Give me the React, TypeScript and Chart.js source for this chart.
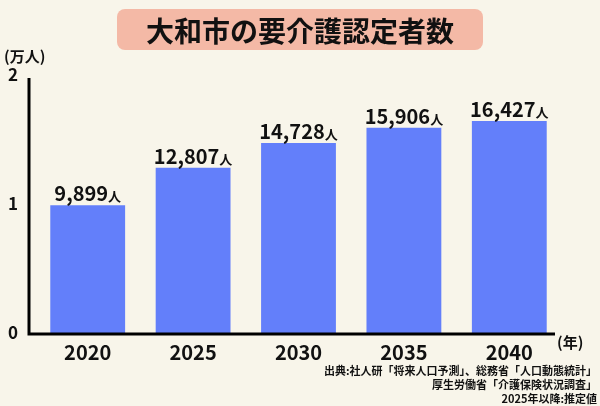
import React, { useEffect, useRef } from "react";
import { Chart, registerables } from "chart.js";

Chart.register(...registerables);

const title = "大和市の要介護認定者数";
const categories = ["2020", "2025", "2030", "2035", "2040"];
const values = [9899, 12807, 14728, 15906, 16427];
const yTicks = [0, 10000, 20000];
const yUnit = "(万人)";
const xUnit = "(年)";
const valueSuffix = "人";
const sourceLines = [
  "出典:社人研「将来人口予測」、総務省「人口動態統計」",
  "厚生労働省「介護保険状況調査」",
  "2025年以降:推定値",
];

const FONT = '"Noto Sans CJK JP", "Noto Sans", sans-serif';
const BG = "#f8f5ea";
const BAR = "#637ffa";
const TITLE_BG = "#f4b9a6";

const decorPlugin = {
  id: "decor",
  beforeDraw(chart: any) {
    const { ctx, width, height } = chart;
    ctx.save();
    ctx.fillStyle = BG;
    ctx.fillRect(0, 0, width, height);
    // title box
    const x = 117, y = 9, w = 366, h = 41, r = 8;
    ctx.fillStyle = TITLE_BG;
    ctx.beginPath();
    ctx.moveTo(x + r, y);
    ctx.arcTo(x + w, y, x + w, y + h, r);
    ctx.arcTo(x + w, y + h, x, y + h, r);
    ctx.arcTo(x, y + h, x, y, r);
    ctx.arcTo(x, y, x + w, y, r);
    ctx.closePath();
    ctx.fill();
    ctx.fillStyle = "#111";
    ctx.font = `bold 28px ${FONT}`;
    ctx.textAlign = "center";
    ctx.textBaseline = "middle";
    ctx.fillText(title, 300, 31);
    ctx.restore();
  },
  afterDraw(chart: any) {
    const { ctx, chartArea } = chart;
    const yScale = chart.scales.y;
    ctx.save();
    // axes lines
    ctx.strokeStyle = "#000";
    ctx.lineWidth = 3;
    ctx.beginPath();
    const ax = chartArea.left - 6;
    const ay = chartArea.bottom + 1;
    ctx.moveTo(ax, yScale.getPixelForValue(20000) + 3);
    ctx.lineTo(ax, ay);
    ctx.lineTo(555, ay);
    ctx.stroke();
    // units
    ctx.fillStyle = "#111";
    ctx.font = `bold 15px ${FONT}`;
    ctx.textBaseline = "middle";
    ctx.textAlign = "left";
    ctx.fillText(yUnit, 4, 56);
    ctx.fillText(xUnit, 557, 342);
    // value labels
    const meta = chart.getDatasetMeta(0);
    meta.data.forEach((bar: any, i: number) => {
      const num = values[i].toLocaleString("en-US");
      ctx.font = `bold 20px ${FONT}`;
      const w1 = ctx.measureText(num).width;
      ctx.font = `bold 13px ${FONT}`;
      const w2 = ctx.measureText(valueSuffix).width;
      const start = bar.x - (w1 + w2) / 2;
      const base = bar.y - 4;
      ctx.textAlign = "left";
      ctx.textBaseline = "alphabetic";
      ctx.font = `bold 20px ${FONT}`;
      ctx.fillText(num, start, base);
      ctx.font = `bold 13px ${FONT}`;
      ctx.fillText(valueSuffix, start + w1, base);
    });
    // source
    ctx.font = `bold 11px ${FONT}`;
    ctx.textAlign = "right";
    ctx.textBaseline = "middle";
    const sy = [371, 385, 399];
    sourceLines.forEach((s, i) => ctx.fillText(s, 597, sy[i]));
    ctx.restore();
  },
};

export default function App() {
  const ref = useRef<HTMLCanvasElement>(null);
  useEffect(() => {
    document.body.style.margin = "0";
    const chart = new Chart(ref.current!, {
      type: "bar",
      data: {
        labels: categories,
        datasets: [
          {
            data: values,
            backgroundColor: BAR,
            barPercentage: 0.71,
            categoryPercentage: 1,
          },
        ],
      },
      options: {
        animation: false,
        responsive: false,
        layout: { padding: { left: 0, top: 75, right: 38, bottom: 0 } },
        plugins: { legend: { display: false }, tooltip: { enabled: false } },
        scales: {
          x: {
            grid: { display: false, drawTicks: false },
            border: { display: false },
            ticks: {
              color: "#111",
              padding: 7,
              font: { family: FONT, size: 20, weight: "bold" },
            },
            afterFit(scale: any) {
              scale.height = 73;
            },
          },
          y: {
            min: 0,
            max: 20000,
            afterBuildTicks(scale: any) {
              scale.ticks = yTicks.map((v) => ({ value: v }));
            },
            grid: { display: false, drawTicks: false },
            border: { display: false },
            ticks: {
              color: "#111",
              padding: 17,
              font: { family: FONT, size: 17, weight: "bold" },
              callback: (v: any) => String(Number(v) / 10000),
            },
            afterFit(scale: any) {
              scale.width = 35;
            },
          },
        },
      },
      plugins: [decorPlugin],
    });
    return () => chart.destroy();
  }, []);
  return <canvas ref={ref} width={600} height={406} style={{ display: "block" }} />;
}
